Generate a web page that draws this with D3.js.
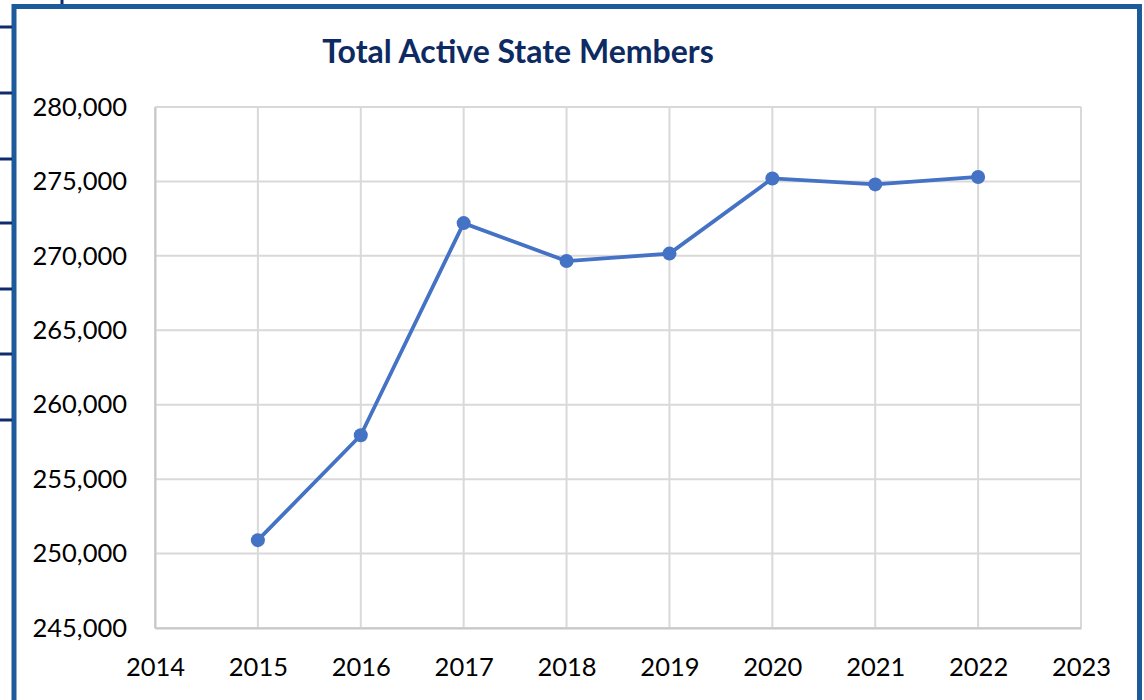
<!DOCTYPE html>
<html>
<head>
<meta charset="utf-8">
<script src="https://cdn.jsdelivr.net/npm/d3@7"></script>
<style>
  body { margin: 0; background: #fff; }
  svg { display: block; }
</style>
</head>
<body>
<div id="chart"></div>
<script>
var years = [2015, 2016, 2017, 2018, 2019, 2020, 2021, 2022];
var members = [250900, 257950, 272200, 269650, 270150, 275200, 274800, 275300];
var xTicks = [2014, 2015, 2016, 2017, 2018, 2019, 2020, 2021, 2022, 2023];
var yTicks = [245000, 250000, 255000, 260000, 265000, 270000, 275000, 280000];
var sideMarks = [27, 93, 159, 223, 289, 354, 420];

var w = 1144, h = 700;
var plotLeft = 155, plotRight = 1081, plotTop = 107, plotBottom = 628;

var svg = d3.select("#chart").append("svg")
  .attr("width", w)
  .attr("height", h);

// frame around the chart, open at the bottom
svg.append("path")
  .attr("d", "M14,700 L14,6.5 L1139.5,6.5 L1139.5,700")
  .attr("fill", "none")
  .attr("stroke", "#1c5a9c")
  .attr("stroke-width", 5);

// small navy marks sitting outside the frame
svg.selectAll("line.mark")
  .data(sideMarks)
  .enter()
  .append("line")
  .attr("class", "mark")
  .attr("x1", 0).attr("x2", 12)
  .attr("y1", function(d) { return d; })
  .attr("y2", function(d) { return d; })
  .attr("stroke", "#0e2c6e")
  .attr("stroke-width", 3);

svg.append("line")
  .attr("x1", 62).attr("x2", 62)
  .attr("y1", 0).attr("y2", 4)
  .attr("stroke", "#0e2c6e")
  .attr("stroke-width", 3);

var xScale = d3.scaleLinear()
  .domain([2014, 2023])
  .range([plotLeft, plotRight]);

var yScale = d3.scaleLinear()
  .domain([245000, 280000])
  .range([plotBottom, plotTop]);

// grid
svg.append("g")
  .selectAll("line")
  .data(xTicks)
  .enter()
  .append("line")
  .attr("x1", function(d) { return xScale(d); })
  .attr("x2", function(d) { return xScale(d); })
  .attr("y1", plotTop)
  .attr("y2", plotBottom)
  .attr("stroke", "#d9d9d9")
  .attr("stroke-width", 2);

svg.append("g")
  .selectAll("line")
  .data(yTicks)
  .enter()
  .append("line")
  .attr("x1", plotLeft)
  .attr("x2", plotRight)
  .attr("y1", function(d) { return yScale(d); })
  .attr("y2", function(d) { return yScale(d); })
  .attr("stroke", "#d9d9d9")
  .attr("stroke-width", 2);

var xAxis = d3.axisBottom()
  .scale(xScale)
  .tickValues(xTicks)
  .tickFormat(d3.format("d"))
  .tickSize(0)
  .tickPadding(30);

var yAxis = d3.axisLeft()
  .scale(yScale)
  .tickValues(yTicks)
  .tickFormat(d3.format(","))
  .tickSize(0)
  .tickPadding(28);

var gx = svg.append("g")
  .attr("transform", "translate(0," + plotBottom + ")")
  .call(xAxis);

var gy = svg.append("g")
  .attr("transform", "translate(" + plotLeft + ",0)")
  .call(yAxis);

[gx, gy].forEach(function(g) {
  g.select(".domain").attr("stroke", "#c8c8c8").attr("stroke-width", 2);
  g.selectAll("text")
    .attr("font-family", "Lato, sans-serif")
    .attr("font-size", 25.5)
    .attr("fill", "#000");
});

gx.selectAll("text").attr("dy", "0.71em");

var line = d3.line()
  .x(function(d, i) { return xScale(years[i]); })
  .y(function(d) { return yScale(d); });

svg.append("path")
  .datum(members)
  .attr("d", line)
  .attr("fill", "none")
  .attr("stroke", "#4472c4")
  .attr("stroke-width", 3.8);

svg.selectAll("circle")
  .data(members)
  .enter()
  .append("circle")
  .attr("cx", function(d, i) { return xScale(years[i]); })
  .attr("cy", function(d) { return yScale(d); })
  .attr("r", 7)
  .attr("fill", "#4472c4");

svg.append("text")
  .attr("x", 518)
  .attr("y", 63)
  .attr("text-anchor", "middle")
  .attr("font-family", "Lato, sans-serif")
  .attr("font-weight", "bold")
  .attr("font-size", 32)
  .attr("fill", "#0e2a62")
  .text("Total Active State Members");
</script>
</body>
</html>
